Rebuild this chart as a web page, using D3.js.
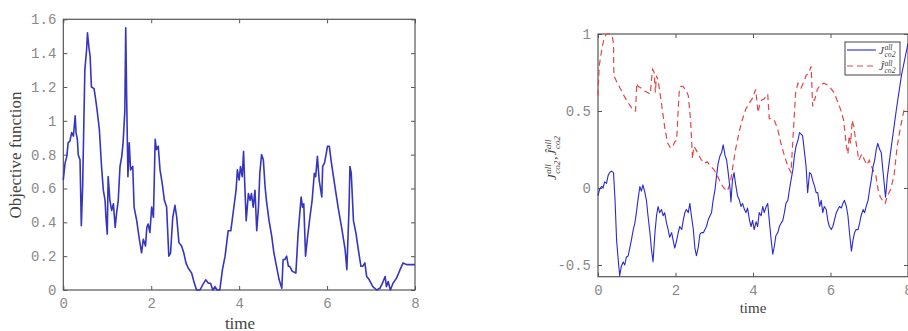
<!DOCTYPE html>
<html><head><meta charset="utf-8">
<script src="https://cdn.jsdelivr.net/npm/d3@7"></script>
<style>body{margin:0;background:#fff}svg{display:block}</style>
</head><body>
<svg id="c" width="908" height="331"></svg>
<script>
// ---------- data ----------
const objT = [0,0.04,0.08,0.11,0.15,0.19,0.23,0.27,0.29,0.32,0.34,0.38,0.41,0.44,0.49,0.53,0.55,0.58,0.61,0.64,0.70,0.74,0.77,0.82,0.87,0.91,0.95,0.97,1.0,1.02,1.06,1.10,1.14,1.18,1.21,1.25,1.29,1.33,1.36,1.40,1.42,1.44,1.47,1.50,1.53,1.58,1.61,1.67,1.73,1.78,1.82,1.87,1.90,1.93,1.97,2.01,2.05,2.09,2.12,2.16,2.20,2.25,2.30,2.35,2.40,2.44,2.49,2.54,2.58,2.63,2.69,2.74,2.79,2.84,2.92,2.97,3.03,3.11,3.17,3.24,3.30,3.35,3.40,3.45,3.50,3.56,3.62,3.68,3.75,3.81,3.87,3.93,3.96,4.00,4.03,4.07,4.10,4.13,4.16,4.21,4.25,4.28,4.32,4.36,4.40,4.44,4.47,4.51,4.55,4.59,4.62,4.68,4.74,4.79,4.85,4.91,4.97,5.00,5.04,5.08,5.12,5.15,5.21,5.29,5.34,5.41,5.44,5.47,5.51,5.55,5.61,5.66,5.71,5.74,5.78,5.82,5.88,5.90,5.94,5.97,6.01,6.05,6.10,6.18,6.25,6.33,6.41,6.45,6.50,6.52,6.55,6.60,6.66,6.71,6.77,6.81,6.86,6.90,6.96,7.04,7.13,7.20,7.26,7.32,7.35,7.39,7.44,7.50,7.58,7.66,7.73,7.81,7.88,8.0];
const objV = [0.65,0.75,0.79,0.87,0.88,0.93,0.91,1.03,0.93,0.89,0.80,0.77,0.38,0.61,1.30,1.42,1.52,1.44,1.38,1.20,1.19,1.12,1.06,0.95,0.73,0.59,0.53,0.43,0.33,0.67,0.53,0.47,0.51,0.37,0.45,0.53,0.73,0.79,0.87,1.06,1.55,1.16,0.67,0.87,0.71,0.73,0.49,0.41,0.30,0.22,0.30,0.26,0.37,0.39,0.34,0.49,0.43,0.89,0.83,0.85,0.71,0.63,0.53,0.49,0.20,0.22,0.43,0.50,0.43,0.28,0.26,0.22,0.16,0.13,0.10,0.05,0.00,0.00,0.03,0.06,0.04,0.04,0.00,0.02,0.00,0.00,0.12,0.20,0.35,0.35,0.47,0.59,0.71,0.65,0.73,0.67,0.82,0.61,0.41,0.57,0.53,0.57,0.49,0.59,0.35,0.49,0.69,0.80,0.77,0.61,0.53,0.41,0.32,0.22,0.14,0.06,0.01,0.18,0.18,0.20,0.14,0.14,0.11,0.10,0.33,0.55,0.49,0.51,0.20,0.30,0.43,0.53,0.69,0.67,0.79,0.65,0.55,0.73,0.75,0.79,0.85,0.85,0.75,0.61,0.49,0.37,0.24,0.12,0.49,0.73,0.69,0.41,0.33,0.24,0.14,0.14,0.16,0.08,0.06,0.02,0.00,0.01,0.04,0.08,0.02,0.05,0.00,0.04,0.07,0.12,0.16,0.15,0.15,0.15];

const jT = [0,0.04,0.09,0.13,0.17,0.22,0.26,0.30,0.34,0.40,0.44,0.48,0.53,0.56,0.60,0.65,0.69,0.73,0.78,0.82,0.86,0.91,0.95,0.99,1.03,1.08,1.12,1.16,1.21,1.25,1.29,1.34,1.38,1.42,1.47,1.51,1.55,1.59,1.64,1.68,1.72,1.77,1.81,1.85,1.90,1.94,1.98,2.03,2.07,2.11,2.16,2.20,2.24,2.28,2.33,2.37,2.41,2.46,2.50,2.54,2.59,2.63,2.67,2.72,2.76,2.80,2.84,2.89,2.93,2.97,3.02,3.06,3.10,3.15,3.19,3.23,3.28,3.32,3.36,3.41,3.43,3.47,3.51,3.56,3.60,3.65,3.69,3.73,3.78,3.82,3.86,3.91,3.95,3.99,4.03,4.08,4.12,4.16,4.21,4.25,4.29,4.34,4.38,4.42,4.47,4.51,4.55,4.59,4.64,4.68,4.72,4.77,4.81,4.85,4.90,4.94,4.98,5.03,5.07,5.11,5.16,5.20,5.24,5.28,5.33,5.37,5.41,5.46,5.50,5.54,5.59,5.63,5.67,5.72,5.76,5.80,5.84,5.89,5.93,5.97,6.02,6.06,6.10,6.15,6.19,6.23,6.28,6.32,6.36,6.41,6.45,6.49,6.54,6.58,6.62,6.66,6.71,6.75,6.79,6.84,6.88,6.92,6.97,7.01,7.05,7.10,7.14,7.18,7.22,7.27,7.31,7.35,7.40,7.42,7.47,7.57,7.70,7.83,8.0];
const jV = [-0.05,-0.01,0.01,0.00,0.04,0.03,0.08,0.10,0.11,0.10,-0.08,-0.34,-0.49,-0.57,-0.51,-0.48,-0.50,-0.45,-0.44,-0.39,-0.34,-0.27,-0.23,-0.16,-0.08,0.01,-0.02,0.02,-0.03,-0.08,-0.18,-0.29,-0.40,-0.48,-0.29,-0.18,-0.12,-0.16,-0.14,-0.18,-0.16,-0.23,-0.27,-0.32,-0.29,-0.34,-0.39,-0.34,-0.29,-0.25,-0.27,-0.21,-0.16,-0.14,-0.16,-0.10,-0.18,-0.27,-0.39,-0.44,-0.38,-0.30,-0.29,-0.29,-0.27,-0.25,-0.21,-0.18,-0.16,-0.08,-0.01,0.08,0.16,0.21,0.23,0.28,0.21,0.18,0.10,-0.01,-0.09,0.05,0.10,0.01,-0.05,-0.08,-0.12,-0.10,-0.14,-0.16,-0.13,-0.21,-0.25,-0.21,-0.27,-0.22,-0.25,-0.16,-0.18,-0.12,-0.16,-0.12,-0.10,-0.21,-0.34,-0.43,-0.38,-0.31,-0.29,-0.25,-0.23,-0.21,-0.16,-0.10,-0.08,-0.01,0.05,0.12,0.21,0.27,0.31,0.36,0.35,0.34,0.23,0.14,-0.03,0.10,0.09,0.05,0.01,-0.03,-0.03,-0.12,-0.08,-0.16,-0.12,-0.14,-0.21,-0.25,-0.27,-0.25,-0.21,-0.16,-0.14,-0.12,-0.13,-0.10,-0.08,-0.12,-0.18,-0.29,-0.41,-0.34,-0.29,-0.27,-0.27,-0.23,-0.18,-0.14,-0.16,-0.12,-0.08,-0.01,0.05,0.14,0.18,0.25,0.29,0.25,0.23,0.12,-0.01,-0.06,0.08,0.27,0.51,0.73,0.94];

const jhT = [0,0.03,0.11,0.17,0.22,0.31,0.37,0.40,0.41,0.50,0.59,0.67,0.76,0.84,0.93,0.97,1.0,1.03,1.11,1.20,1.28,1.35,1.38,1.41,1.45,1.48,1.51,1.55,1.61,1.67,1.73,1.80,1.87,1.93,1.98,2.03,2.07,2.10,2.14,2.19,2.26,2.33,2.39,2.44,2.47,2.50,2.57,2.65,2.74,2.82,2.91,2.99,3.08,3.17,3.25,3.34,3.42,3.48,3.55,3.64,3.72,3.81,3.90,3.98,4.07,4.13,4.18,4.22,4.29,4.38,4.42,4.46,4.55,4.64,4.72,4.81,4.90,4.98,5.04,5.10,5.16,5.24,5.33,5.37,5.44,5.50,5.54,5.57,5.59,5.66,5.74,5.83,5.91,6.00,6.09,6.17,6.26,6.34,6.41,6.45,6.48,6.52,6.56,6.60,6.65,6.69,6.73,6.81,6.88,6.94,7.00,7.09,7.17,7.24,7.29,7.36,7.41,7.47,7.55,7.64,7.72,7.81,7.90,8.0];
const jhV = [0.60,0.79,0.92,0.98,1.0,1.0,0.98,0.94,0.73,0.68,0.64,0.60,0.56,0.53,0.50,0.50,0.68,0.66,0.65,0.63,0.62,0.61,0.70,0.77,0.75,0.62,0.73,0.70,0.60,0.49,0.38,0.29,0.26,0.27,0.30,0.31,0.51,0.64,0.66,0.66,0.64,0.60,0.44,0.19,0.27,0.26,0.23,0.19,0.16,0.17,0.14,0.12,0.08,0.03,0.00,-0.02,0.04,0.14,0.25,0.36,0.44,0.51,0.55,0.58,0.64,0.49,0.55,0.57,0.58,0.61,0.45,0.45,0.44,0.38,0.29,0.21,0.14,0.10,0.36,0.62,0.68,0.65,0.70,0.73,0.75,0.79,0.53,0.57,0.57,0.64,0.67,0.68,0.67,0.65,0.62,0.57,0.51,0.44,0.27,0.22,0.34,0.29,0.44,0.40,0.31,0.25,0.18,0.22,0.18,0.15,0.18,0.12,0.08,-0.03,-0.06,-0.09,-0.10,-0.05,-0.01,0.08,0.27,0.40,0.51,0.51];

const xTicks = [0,2,4,6,8];
const objYTicks = [0,0.2,0.4,0.6,0.8,1,1.2,1.4,1.6];
const objYLabels = ["0","0.2","0.4","0.6","0.8","1","1.2","1.4","1.6"];
const jYTicks = [-0.5,0,0.5,1];
const jYLabels = ["-0.5","0","0.5","1"];

// ---------- drawing ----------
const svg = d3.select("#c");
const tickFont = "'Liberation Mono', 'DejaVu Sans Mono', monospace";
const serif = "'Liberation Serif', 'DejaVu Serif', serif";
const tickColor = "#8a8a8a";
const frameColor = "#555";

function panel(o){
  const x = d3.scaleLinear().domain([0,8]).range([o.x0,o.x1]);
  const y = d3.scaleLinear().domain(o.yDomain).range([o.y1,o.y0]);
  const g = svg.append("g");
  const tl = 4;
  g.append("g").attr("transform",`translate(0,${o.y1})`)
    .call(d3.axisBottom(x).tickValues(xTicks).tickSizeInner(-tl).tickSizeOuter(0).tickPadding(8).tickFormat(d3.format("d")))
    .call(a=>{a.select(".domain").remove();a.selectAll("line").attr("stroke",frameColor);
      a.selectAll("text").attr("fill",tickColor).attr("font-family",tickFont).attr("font-size",o.tfs);});
  g.append("g").attr("transform",`translate(0,${o.y0})`)
    .call(d3.axisTop(x).tickValues(xTicks).tickSizeInner(-tl).tickSizeOuter(0).tickFormat(""))
    .call(a=>{a.select(".domain").remove();a.selectAll("line").attr("stroke",frameColor);});
  g.append("g").attr("transform",`translate(${o.x0},0)`)
    .call(d3.axisLeft(y).tickValues(o.yTicks).tickSizeInner(-tl).tickSizeOuter(0).tickPadding(7).tickFormat((d,i)=>o.yLabels[i]))
    .call(a=>{a.select(".domain").remove();a.selectAll("line").attr("stroke",frameColor);
      a.selectAll("text").attr("fill",tickColor).attr("font-family",tickFont).attr("font-size",o.tfs);});
  g.append("g").attr("transform",`translate(${o.x1},0)`)
    .call(d3.axisRight(y).tickValues(o.yTicks).tickSizeInner(-tl).tickSizeOuter(0).tickFormat(""))
    .call(a=>{a.select(".domain").remove();a.selectAll("line").attr("stroke",frameColor);});
  g.append("rect").attr("x",o.x0).attr("y",o.y0).attr("width",o.x1-o.x0).attr("height",o.y1-o.y0)
    .attr("fill","none").attr("stroke",frameColor).attr("stroke-width",1.2);
  return {x,y,g};
}

// Left panel
const L = panel({x0:63.3,x1:415,y0:19.3,y1:290,yDomain:[0,1.6],yTicks:objYTicks,yLabels:objYLabels,tfs:14});
const lineL = d3.line().x((d,i)=>L.x(objT[i])).y(d=>L.y(d));
L.g.append("path").datum(objV).attr("d",lineL).attr("fill","none")
  .attr("stroke","#3535c0").attr("stroke-width",1.6).attr("stroke-linejoin","round");
svg.append("text").attr("x",240).attr("y",329).attr("text-anchor","middle")
  .attr("font-family",serif).attr("font-size",17).attr("fill","#444").text("time");
svg.append("text").attr("transform","translate(21,155) rotate(-90)").attr("text-anchor","middle")
  .attr("font-family",serif).attr("font-size",17).attr("fill","#444").text("Objective function");

// Right panel
const R = panel({x0:598,x1:908,y0:34,y1:276.7,yDomain:[-0.576,1],yTicks:jYTicks,yLabels:jYLabels,tfs:14});
R.g.append("path").datum(jhV).attr("d",d3.line().x((d,i)=>R.x(jhT[i])).y(d=>R.y(d)))
  .attr("fill","none").attr("stroke","#e04848").attr("stroke-width",1.2).attr("stroke-dasharray","6,4");
R.g.append("path").datum(jV).attr("d",d3.line().x((d,i)=>R.x(jT[i])).y(d=>R.y(d)))
  .attr("fill","none").attr("stroke","#2a2ad0").attr("stroke-width",1.1).attr("stroke-linejoin","round");
svg.append("text").attr("x",753).attr("y",313).attr("text-anchor","middle")
  .attr("font-family",serif).attr("font-size",15).attr("fill","#444").text("time");

// math label: J (or Ĵ) with superscript "all" and subscript "co2"; returns width
function mathLabel(g, x, hat, fs){
  const base = g.append("text").attr("x",x).attr("y",0).attr("font-family",serif)
    .attr("font-style","italic").attr("font-size",fs).attr("fill","#444").text(hat?"Ĵ":"J");
  const w = base.node().getComputedTextLength();
  const sfs = fs*0.7;
  const sup = g.append("text").attr("x",x+w+0.5).attr("y",-fs*0.38).attr("font-family",serif)
    .attr("font-style","italic").attr("font-size",sfs).attr("fill","#444").text("all");
  const sub = g.append("text").attr("x",x+w+0.5).attr("y",fs*0.3).attr("font-family",serif)
    .attr("font-style","italic").attr("font-size",sfs).attr("fill","#444").text("co2");
  const w2 = Math.max(sup.node().getComputedTextLength(), sub.node().getComputedTextLength());
  return w + 0.5 + w2;
}
// y label of right panel (rotated)
const yl = svg.append("g");
let wx = mathLabel(yl, 0, false, 13);
const comma = yl.append("text").attr("x",wx+1).attr("y",0).attr("font-family",serif).attr("font-size",13).attr("fill","#444").text(",");
wx += 1 + comma.node().getComputedTextLength() + 1;
wx += mathLabel(yl, wx, true, 13);
yl.attr("transform",`translate(556,${158+wx/2}) rotate(-90)`);

// legend
const lg = svg.append("g");
lg.append("rect").attr("x",845).attr("y",42).attr("width",55).attr("height",33)
  .attr("fill","#fff").attr("stroke","#444").attr("stroke-width",1);
lg.append("line").attr("x1",847).attr("x2",876).attr("y1",50).attr("y2",50).attr("stroke","#2a2ad0").attr("stroke-width",1.1);
lg.append("line").attr("x1",847).attr("x2",876).attr("y1",66).attr("y2",66).attr("stroke","#e04848").attr("stroke-width",1.2).attr("stroke-dasharray","6,4");
const lt1 = lg.append("g").attr("transform","translate(879,54)");
mathLabel(lt1,0,false,11);
const lt2 = lg.append("g").attr("transform","translate(879,70)");
mathLabel(lt2,0,true,11);
</script>
</body></html>
